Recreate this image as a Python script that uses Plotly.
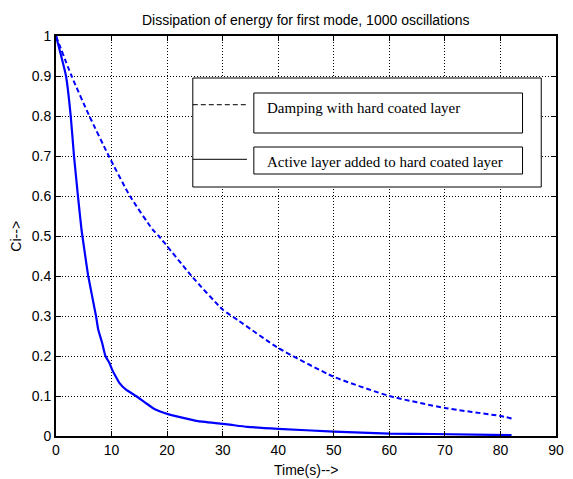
import plotly.graph_objects as go

# ---- data ----
t_damp = [0, 2.8, 6.0, 9.5, 13.3, 17.4, 18.5, 24.4, 30.0, 32.7, 40, 50, 60, 70, 80, 82]
c_damp = [1.0, 0.9, 0.8, 0.7, 0.6, 0.516, 0.5, 0.4, 0.316, 0.29, 0.22, 0.148, 0.1, 0.07, 0.05, 0.044]

t_active = [0, 1.8, 2.65, 3.24, 3.95, 4.6, 5.1, 5.8, 7.2, 7.6, 8.3, 8.9, 9.6, 10.1, 10.7, 11.4,
            12.6, 14.4, 16.1, 17.9, 20.3, 25.6, 30.9, 34.4, 40, 50, 60, 68, 82]
c_active = [1.0, 0.9, 0.8, 0.7, 0.6, 0.515, 0.466, 0.4, 0.3, 0.266, 0.233, 0.2, 0.183, 0.166, 0.15, 0.133,
            0.116, 0.1, 0.083, 0.066, 0.054, 0.037, 0.029, 0.023, 0.018, 0.011, 0.006, 0.005, 0.002]

x_ticks = [0, 10, 20, 30, 40, 50, 60, 70, 80, 90]
y_ticks = [0, 0.1, 0.2, 0.3, 0.4, 0.5, 0.6, 0.7, 0.8, 0.9, 1]

title_text = "Dissipation of energy for first mode, 1000 oscillations"
x_title = "Time(s)-->"
y_title = "Ci-->"
legend_labels = ["Damping with hard coated layer", "Active layer added to hard coated layer"]

# ---- layout geometry (pixels) ----
W, H = 573, 479
ML, MR, MT, MB = 56, 9, 36, 43
PW, PH = W - ML - MR, H - MT - MB


def fx(px):
    return (px - ML) / PW


def fy(py):
    return (H - MB - py) / PH


SANS = "Liberation Sans, Arial, Helvetica, sans-serif"
SERIF = "Liberation Serif, Times New Roman, serif"

fig = go.Figure()
fig.add_trace(go.Scatter(x=t_damp, y=c_damp, mode="lines",
                         line=dict(color="#0000FF", width=2, dash="5px,3px",
                                   shape="spline", smoothing=0.5),
                         showlegend=False))
fig.add_trace(go.Scatter(x=t_active, y=c_active, mode="lines",
                         line=dict(color="#0000FF", width=2.2,
                                   shape="spline", smoothing=0.4),
                         showlegend=False))

axis_common = dict(
    showline=True, linecolor="black", linewidth=2, mirror="ticks",
    ticks="inside", ticklen=5, tickwidth=1, tickcolor="black",
    showgrid=True, gridcolor="black", gridwidth=1, griddash="1px,2px",
    zeroline=False, tickfont=dict(family=SANS, size=14, color="black"),
)

fig.update_xaxes(range=[0, 90], tickvals=x_ticks, **axis_common)
fig.update_yaxes(range=[0, 1], tickvals=y_ticks, **axis_common)

shapes = []
# legend outer box
shapes.append(dict(type="rect", xref="paper", yref="paper",
                   x0=fx(195), x1=fx(549), y0=fy(187), y1=fy(78),
                   line=dict(color="black", width=1), fillcolor="white", layer="above"))
# inner boxes
shapes.append(dict(type="rect", xref="paper", yref="paper",
                   x0=fx(257), x1=fx(530), y0=fy(133), y1=fy(93),
                   line=dict(color="black", width=1), fillcolor="white", layer="above"))
shapes.append(dict(type="rect", xref="paper", yref="paper",
                   x0=fx(257), x1=fx(530), y0=fy(174), y1=fy(147),
                   line=dict(color="black", width=1), fillcolor="white", layer="above"))
# legend sample lines
shapes.append(dict(type="line", xref="paper", yref="paper",
                   x0=fx(195), x1=fx(250), y0=fy(104.7), y1=fy(104.7),
                   line=dict(color="black", width=1, dash="5px,3px"), layer="above"))
shapes.append(dict(type="line", xref="paper", yref="paper",
                   x0=fx(195), x1=fx(250), y0=fy(159.3), y1=fy(159.3),
                   line=dict(color="black", width=1), layer="above"))

annotations = [
    dict(text=legend_labels[0], xref="paper", yref="paper", x=fx(268), y=fy(108),
         xanchor="left", yanchor="middle", showarrow=False,
         font=dict(family=SERIF, size=15, color="black")),
    dict(text=legend_labels[1], xref="paper", yref="paper", x=fx(268), y=fy(162),
         xanchor="left", yanchor="middle", showarrow=False,
         font=dict(family=SERIF, size=15, color="black")),
    dict(text=title_text, xref="paper", yref="paper", x=0.5, y=fy(20),
         xanchor="center", yanchor="middle", showarrow=False,
         font=dict(family=SANS, size=14, color="black")),
    dict(text=x_title, xref="paper", yref="paper", x=0.5, y=fy(470),
         xanchor="center", yanchor="middle", showarrow=False,
         font=dict(family=SANS, size=14, color="black")),
    dict(text=y_title, xref="paper", yref="paper", x=fx(15), y=0.5,
         xanchor="center", yanchor="middle", showarrow=False, textangle=-90,
         font=dict(family=SANS, size=14, color="black")),
]

fig.update_layout(
    width=W, height=H,
    margin=dict(l=ML, r=MR, t=MT, b=MB, pad=0),
    paper_bgcolor="white", plot_bgcolor="white",
    shapes=shapes, annotations=annotations,
    showlegend=False,
)

fig.write_html("out.html")
